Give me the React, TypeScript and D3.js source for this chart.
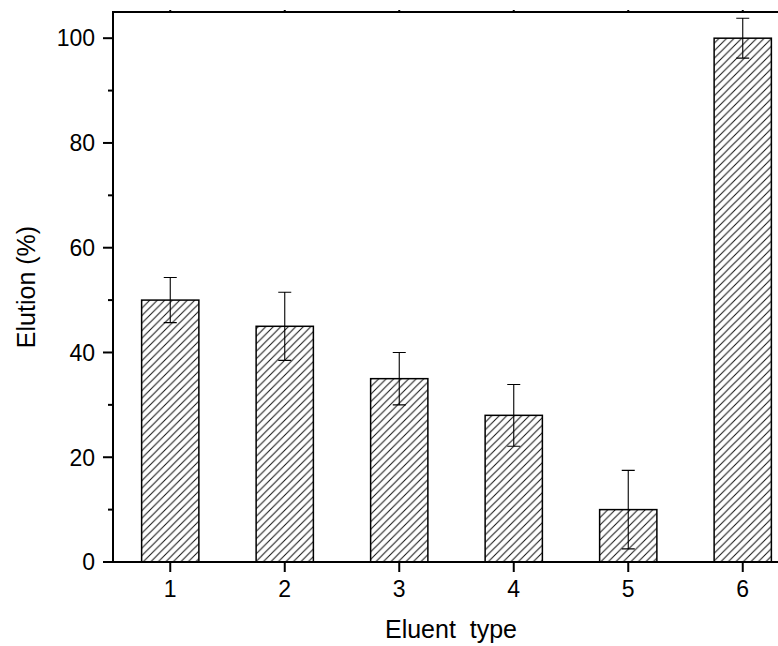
import React, { useRef, useEffect } from 'react';
import * as d3 from 'd3';

// Eluent types on the x axis
const categories = [1, 2, 3, 4, 5, 6];
// Elution (%) per eluent
const elution = [50, 45, 35, 28, 10, 100];
// Error bar half widths
const errors = [4.3, 6.5, 5, 5.9, 7.5, 3.8];
const yMajorTicks = [0, 20, 40, 60, 80, 100];
const yMinorTicks = [10, 30, 50, 70, 90];

const width = 778;
const height = 646;

const App: React.FC = () => {
  const svgRef = useRef<SVGSVGElement>(null);

  useEffect(() => {
    if (!svgRef.current) return;
    d3.select(svgRef.current).selectAll('*').remove();

    const font = '"Liberation Sans", Arial, sans-serif';
    const left = 113;
    const right = 800;
    const top = 12;
    const bottom = 562;

    const svg = d3
      .select(svgRef.current)
      .attr('width', width)
      .attr('height', height);

    // Hatch pattern
    const h = 7.5;
    svg
      .append('defs')
      .append('pattern')
      .attr('id', 'hatch')
      .attr('patternUnits', 'userSpaceOnUse')
      .attr('width', h)
      .attr('height', h)
      .append('path')
      .attr('d', `M0,${h} L${h},0 M${-h / 2},${h / 2} L${h / 2},${-h / 2} M${h / 2},${h * 1.5} L${h * 1.5},${h / 2}`)
      .attr('stroke', '#111')
      .attr('stroke-width', 1)
      .attr('fill', 'none');

    const xScale = d3.scaleLinear().domain([0.5, 6.5]).range([left, right]);
    const yScale = d3.scaleLinear().domain([0, 105]).range([bottom, top]);
    const barW = (xScale(2) - xScale(1)) * 0.5;

    // Bars
    svg
      .append('g')
      .selectAll('rect')
      .data(elution)
      .enter()
      .append('rect')
      .attr('x', (_, i) => xScale(categories[i]) - barW / 2)
      .attr('y', (d) => yScale(d))
      .attr('width', barW)
      .attr('height', (d) => yScale(0) - yScale(d))
      .attr('fill', 'url(#hatch)')
      .attr('stroke', '#000')
      .attr('stroke-width', 1.5);

    // Error bars
    const capW = 6.5;
    const eg = svg
      .append('g')
      .attr('stroke', '#000')
      .attr('stroke-width', 1.1)
      .attr('fill', 'none');
    elution.forEach((v, i) => {
      const cx = xScale(categories[i]);
      const y1 = yScale(v + errors[i]);
      const y0 = yScale(v - errors[i]);
      eg.append('path').attr(
        'd',
        `M${cx},${y0} L${cx},${y1} M${cx - capW},${y1} L${cx + capW},${y1} M${cx - capW},${y0} L${cx + capW},${y0}`
      );
    });

    // Frame
    svg
      .append('path')
      .attr('d', `M${right},${top} L${left},${top} L${left},${bottom} L${right},${bottom}`)
      .attr('stroke', '#000')
      .attr('stroke-width', 2)
      .attr('fill', 'none');

    // Y ticks
    const yt = svg.append('g').attr('stroke', '#000').attr('stroke-width', 2);
    yMajorTicks.forEach((t) => {
      yt.append('line')
        .attr('x1', left - 10)
        .attr('x2', left)
        .attr('y1', yScale(t))
        .attr('y2', yScale(t));
    });
    yMinorTicks.forEach((t) => {
      yt.append('line')
        .attr('x1', left - 5)
        .attr('x2', left)
        .attr('y1', yScale(t))
        .attr('y2', yScale(t));
    });
    svg
      .append('g')
      .selectAll('text')
      .data(yMajorTicks)
      .enter()
      .append('text')
      .attr('x', left - 18)
      .attr('y', (d) => yScale(d))
      .attr('dy', '0.36em')
      .attr('text-anchor', 'end')
      .attr('font-family', font)
      .attr('font-size', 23)
      .attr('fill', '#000')
      .text((d) => d);

    // X ticks
    const xt = svg.append('g').attr('stroke', '#000').attr('stroke-width', 2);
    categories.forEach((c) => {
      xt.append('line')
        .attr('x1', xScale(c))
        .attr('x2', xScale(c))
        .attr('y1', bottom)
        .attr('y2', bottom + 10);
      xt.append('line')
        .attr('x1', xScale(c))
        .attr('x2', xScale(c))
        .attr('y1', top)
        .attr('y2', top - 2);
    });
    svg
      .append('g')
      .selectAll('text')
      .data(categories)
      .enter()
      .append('text')
      .attr('x', (d) => xScale(d))
      .attr('y', bottom + 35)
      .attr('text-anchor', 'middle')
      .attr('font-family', font)
      .attr('font-size', 23)
      .attr('fill', '#000')
      .text((d) => d);

    // Axis titles
    svg
      .append('text')
      .attr('x', 451)
      .attr('y', 638)
      .attr('text-anchor', 'middle')
      .attr('font-family', font)
      .attr('font-size', 25)
      .attr('fill', '#000')
      .style('white-space', 'pre')
      .text('Eluent  type');

    svg
      .append('text')
      .attr('transform', `translate(35,${(top + bottom) / 2}) rotate(-90)`)
      .attr('text-anchor', 'middle')
      .attr('font-family', font)
      .attr('font-size', 25)
      .attr('fill', '#000')
      .text('Elution (%)');
  }, []);

  return (
    <svg
      ref={svgRef}
      style={{ position: 'absolute', left: 0, top: 0, background: '#fff', overflow: 'hidden' }}
    ></svg>
  );
};

export default App;
